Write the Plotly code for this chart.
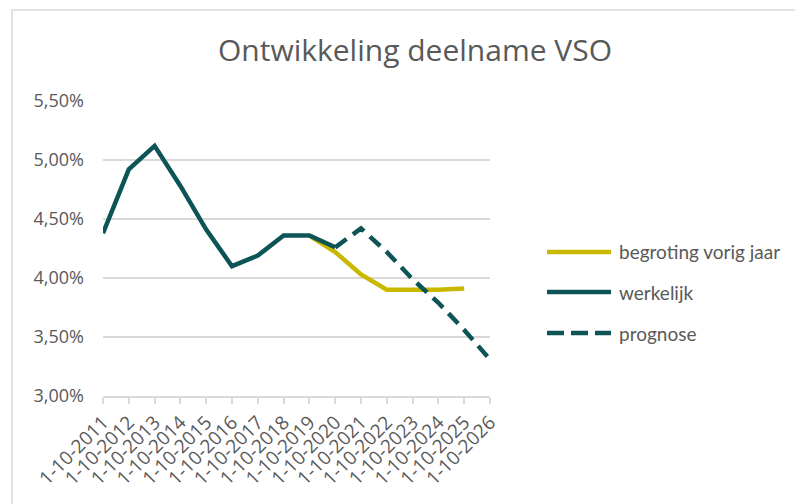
import plotly.graph_objects as go

categories = ["1-10-2011", "1-10-2012", "1-10-2013", "1-10-2014", "1-10-2015", "1-10-2016",
              "1-10-2017", "1-10-2018", "1-10-2019", "1-10-2020", "1-10-2021", "1-10-2022",
              "1-10-2023", "1-10-2024", "1-10-2025", "1-10-2026"]

werkelijk = [4.38, 4.92, 5.12, 4.78, 4.41, 4.10, 4.19, 4.36, 4.36, 4.26,
             None, None, None, None, None, None]
begroting = [None, None, None, None, None, None, None, None, 4.36, 4.22,
             4.03, 3.90, 3.90, 3.90, 3.91, None]
prognose = [None, None, None, None, None, None, None, None, None, 4.26,
            4.42, 4.22, 3.99, 3.79, 3.56, 3.31]

y_ticks = [3.0, 3.5, 4.0, 4.5, 5.0, 5.5]
y_ticklabels = ["3,00%", "3,50%", "4,00%", "4,50%", "5,00%", "5,50%"]

series_names = ["begroting vorig jaar", "werkelijk", "prognose"]

TEAL = "#0d5457"
GOLD = "#c9b800"
GRAY = "#595959"
DASH = "14px,8px"

OFF = 8  # page body margin offset
W, H = 803 - OFF, 504 - OFF
ML, MT = 103 - OFF, 101 - OFF
MR, MB = W - (490 - OFF), H - (396 - OFF)
pw, ph = W - ML - MR, H - MT - MB

def px_to_paper_x(px):
    return (px - OFF - ML) / pw

def px_to_paper_y(py):
    return (H - MB - (py - OFF)) / ph

fig = go.Figure()
fig.add_trace(go.Scatter(x=categories, y=begroting, mode="lines", name=series_names[0],
                         line=dict(color=GOLD, width=4.5)))
fig.add_trace(go.Scatter(x=categories, y=prognose, mode="lines", name=series_names[2],
                         line=dict(color=TEAL, width=4.5, dash=DASH)))
fig.add_trace(go.Scatter(x=categories, y=werkelijk, mode="lines", name=series_names[1],
                         line=dict(color=TEAL, width=4.5)))

# Chart border (Excel chart area)
fig.add_shape(type="rect", xref="paper", yref="paper",
              x0=px_to_paper_x(12), x1=px_to_paper_x(803 + 20),
              y0=px_to_paper_y(504 + 20), y1=px_to_paper_y(10),
              line=dict(color="#d9d9d9", width=1.5), fillcolor="rgba(0,0,0,0)", layer="below")

# Legend drawn manually
legend_rows = [(252, GOLD, "solid", series_names[0]),
               (292, TEAL, "solid", series_names[1]),
               (333, TEAL, "dash", series_names[2])]
for py, col, dash, label in legend_rows:
    fig.add_shape(type="line", xref="paper", yref="paper",
                  x0=px_to_paper_x(547), x1=px_to_paper_x(611),
                  y0=px_to_paper_y(py), y1=px_to_paper_y(py),
                  line=dict(color=col, width=4.5, dash="17px,7px" if dash == "dash" else "solid"))
    fig.add_annotation(xref="paper", yref="paper", x=px_to_paper_x(617), y=px_to_paper_y(py),
                       text=label, showarrow=False, xanchor="left", yanchor="middle",
                       font=dict(family="Lato", size=19, color=GRAY))

fig.update_layout(
    width=W, height=H,
    margin=dict(l=ML, r=MR, t=MT, b=MB),
    paper_bgcolor="white", plot_bgcolor="white",
    showlegend=False,
    title=dict(text="Ontwikkeling deelname VSO", x=(415 - OFF) / W,
               xanchor="center", y=1 - (50 - OFF) / H, yanchor="middle",
               font=dict(family="Open Sans", size=30, color=GRAY)),
    font=dict(family="Open Sans", color=GRAY),
)
fig.update_xaxes(type="category", range=[0, len(categories) - 1], tickangle=-45,
                 tickmode="array", tickvals=categories, ticktext=categories,
                 showgrid=False, showline=True, linecolor="#d9d9d9", linewidth=1.5,
                 ticks="outside", ticklen=6, tickcolor="#d9d9d9", tickwidth=1.5,
                 tickfont=dict(family="Open Sans", size=19, color=GRAY))
fig.update_yaxes(range=[3.0, 5.5], tickvals=y_ticks, ticktext=y_ticklabels,
                 showgrid=True, gridcolor="#d9d9d9", gridwidth=1.5, zeroline=False,
                 showline=False, ticks="", ticklabelstandoff=18,
                 tickfont=dict(family="Open Sans", size=18, color=GRAY))

fig.write_html("out.html")
